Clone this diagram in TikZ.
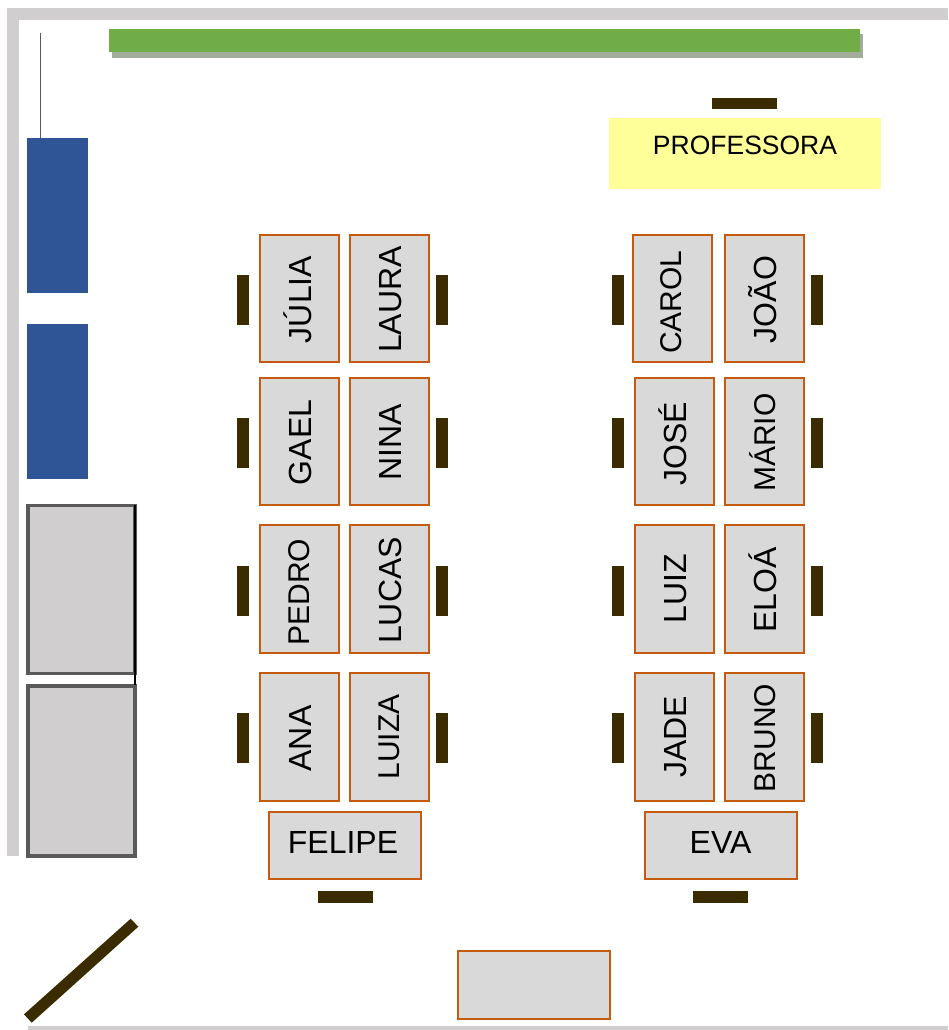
\documentclass[tikz,border=0pt]{standalone}
\usepackage{fontspec}
\setmainfont{Liberation Sans}
\definecolor{wallc}{HTML}{D0CECE}
\definecolor{greenb}{HTML}{70AD47}
\definecolor{shadowc}{HTML}{A3AB9B}
\definecolor{bluec}{HTML}{2F5597}
\definecolor{brownc}{HTML}{3B2C00}
\definecolor{deskc}{HTML}{D9D9D9}
\definecolor{orangec}{HTML}{C55A11}
\definecolor{yellowc}{HTML}{FFFF99}
\definecolor{edgec}{HTML}{595959}
\tikzset{
  deskbox/.style={draw=orangec,fill=deskc,line width=1.2pt},
  chair/.style={fill=brownc,draw=none},
  wall/.style={fill=wallc,draw=none},
  bigtxt/.style={rotate=90,anchor=base,inner sep=0pt,font=\fontsize{32}{32}\selectfont},
  smalltxt/.style={rotate=90,anchor=base,inner sep=0pt,font=\fontsize{30}{30}\selectfont},
  flattxt/.style={anchor=base,inner sep=0pt,font=\fontsize{32}{32}\selectfont},
  cabinet/.style={fill=wallc,draw=edgec,line width=3.6pt},
}
\begin{document}
\begin{tikzpicture}[x=1pt,y=-1pt]
\useasboundingbox (0,0) rectangle (948,1030);
% walls
\fill[wall] (7,8) rectangle (948,20);
\fill[wall] (7,8) rectangle (19,856);
\fill[wall] (28,1026) rectangle (948,1030);
% board
\fill[shadowc] (112,34) rectangle (863,58);
\fill[greenb] (109,29) rectangle (860,52);
% window cord and blue panels
\fill[bluec] (27,138) rectangle (88,293);
\fill[bluec] (27,324) rectangle (88,479);
\draw[edgec,line width=0.8pt] (40.5,33) -- (40.5,138);
% cabinets
\draw[cabinet] (27.8,505.5) rectangle (135,673.5);
\draw[cabinet] (27.8,686) rectangle (135,856);
\draw[black,line width=1.2pt] (135,505) -- (135,685);
% door
\fill[brownc] (130.7,918.7) -- (138.3,926.7) -- (31.7,1022.7) -- (24,1014.3) -- cycle;
% teacher
\fill[chair] (712,98) rectangle (777,109);
\fill[yellowc] (609,118) rectangle (881,189);
\node[anchor=base,inner sep=0pt,font=\fontsize{26.5}{26.5}\selectfont] (prof) at (745,154) {PROFESSORA};
% chairs
\foreach \cx in {236.5,435.5,611.5,810.5}
  \foreach \cy in {275,418,566,713}
    \fill[chair] (\cx,\cy) rectangle ++(12,49.5);
\fill[chair] (318,891) rectangle (373,903);
\fill[chair] (693,891) rectangle (748,903);
% desks
\foreach \xa/\ya/\xb/\yb in {
 260/235/339/362, 350/235/429/362, 633/235/712/362, 725/235/804/362,
 260/378/339/505, 350/378/429/505, 635/378/714/505, 725/378/804/505,
 260/525/339/653, 350/525/429/653, 635/525/714/653, 725/525/804/653,
 260/673/339/801, 350/673/429/801, 635/673/714/801, 725/673/804/801,
 269/812/421/879, 645/812/797/879, 458/951/610/1019}
  \draw[deskbox] (\xa,\ya) rectangle (\xb,\yb);
% names
\node[bigtxt] (julia) at (311,299.5) {JÚLIA};
\node[bigtxt] (laura) at (401,299.5) {LAURA};
\node[bigtxt] (gael) at (311,442.5) {GAEL};
\node[bigtxt] (nina) at (401,442.5) {NINA};
\node[smalltxt] (pedro) at (309,592) {PEDRO};
\node[bigtxt] (lucas) at (401,590.5) {LUCAS};
\node[bigtxt] (ana) at (311,738.5) {ANA};
\node[smalltxt] (luiza) at (399,737) {LUIZA};
\node[smalltxt] (carol) at (681,302) {CAROL};
\node[bigtxt] (joao) at (776,299.5) {JOÃO};
\node[bigtxt] (jose) at (686,444) {JOSÉ};
\node[smalltxt] (mario) at (775,442.5) {MÁRIO};
\node[bigtxt] (luiz) at (686,589) {LUIZ};
\node[bigtxt] (eloa) at (776,590) {ELOÁ};
\node[bigtxt] (jade) at (686,737) {JADE};
\node[smalltxt] (bruno) at (775,738) {BRUNO};
\node[flattxt] (felipe) at (343,853) {FELIPE};
\node[flattxt] (eva) at (720.5,853) {EVA};
\end{tikzpicture}
\end{document}
